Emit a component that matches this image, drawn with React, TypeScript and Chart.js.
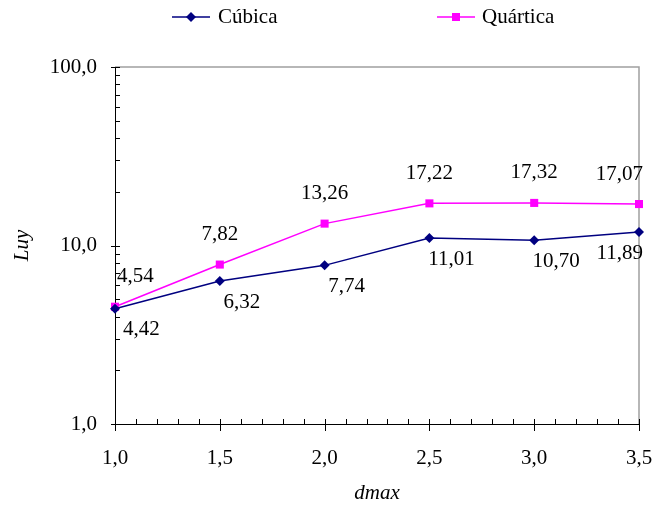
import React, { useEffect, useRef } from "react";
import { Chart, registerables } from "chart.js";

Chart.register(...registerables);

const dmaxValues = [1.0, 1.5, 2.0, 2.5, 3.0, 3.5];
const cubicaValues = [4.42, 6.32, 7.74, 11.01, 10.7, 11.89];
const quarticaValues = [4.54, 7.82, 13.26, 17.22, 17.32, 17.07];
const yTickValues = [1, 10, 100];
const seriesNames = ["Cúbica", "Quártica"];
const seriesColors = ["#000080", "#FF00FF"];
const seriesMarkers = ["rectRot", "rect"];

const FONT = "'Liberation Serif', 'Times New Roman', serif";
const FS = 21;
const fmt = (v: number, d: number) => v.toFixed(d).replace(".", ",");

function drawMarker(ctx: CanvasRenderingContext2D, kind: string, x: number, y: number, color: string) {
  ctx.save();
  ctx.fillStyle = color;
  ctx.beginPath();
  if (kind === "rectRot") {
    const r = 5;
    ctx.moveTo(x, y - r);
    ctx.lineTo(x + r, y);
    ctx.lineTo(x, y + r);
    ctx.lineTo(x - r, y);
    ctx.closePath();
  } else {
    ctx.rect(x - 4, y - 4, 8, 8);
  }
  ctx.fill();
  ctx.restore();
}

const framePlugin = {
  id: "frame",
  beforeDatasetsDraw(chart: any) {
    const { ctx, chartArea } = chart;
    const { left, right, top, bottom } = chartArea;
    const xs = chart.scales.x;
    const ys = chart.scales.y;
    ctx.save();
    ctx.strokeStyle = "#a0a0a0";
    ctx.lineWidth = 1.5;
    ctx.beginPath();
    ctx.moveTo(left, top);
    ctx.lineTo(right, top);
    ctx.lineTo(right, bottom);
    ctx.stroke();
    ctx.strokeStyle = "#000000";
    ctx.lineWidth = 1;
    ctx.beginPath();
    ctx.moveTo(Math.round(left) + 0.5, top);
    ctx.lineTo(Math.round(left) + 0.5, bottom);
    ctx.moveTo(left, Math.round(bottom) + 0.5);
    ctx.lineTo(right, Math.round(bottom) + 0.5);
    for (let dec = 1; dec < 100; dec *= 10) {
      for (let m = 1; m <= 9; m++) {
        const v = dec * m;
        const py = Math.round(ys.getPixelForValue(v)) + 0.5;
        ctx.moveTo(m === 1 ? left - 4 : left, py);
        ctx.lineTo(left + 5, py);
      }
    }
    {
      const py = Math.round(ys.getPixelForValue(100)) + 0.5;
      ctx.moveTo(left - 4, py);
      ctx.lineTo(left + 5, py);
    }
    for (let i = 0; i <= 25; i++) {
      const v = 1 + i * 0.1;
      const px = Math.round(xs.getPixelForValue(v)) + 0.5;
      ctx.moveTo(px, bottom - 5);
      ctx.lineTo(px, i % 5 === 0 ? bottom + 7 : bottom);
    }
    ctx.stroke();
    ctx.restore();
  },
};

const labelPlugin = {
  id: "valueLabels",
  afterDatasetsDraw(chart: any) {
    const { ctx } = chart;
    ctx.save();
    ctx.font = `${FS}px ${FONT}`;
    ctx.fillStyle = "#000000";
    ctx.textAlign = "center";
    ctx.textBaseline = "middle";
    chart.data.datasets.forEach((ds: any, di: number) => {
      const meta = chart.getDatasetMeta(di);
      meta.data.forEach((pt: any, i: number) => {
        const text = fmt(ds.data[i].y, 2);
        const w = ctx.measureText(text).width;
        let cx = di === 0 ? pt.x + 22 : pt.x;
        const cy = di === 0 ? pt.y + 21 : pt.y - 30;
        const minLeft = di === 0 ? 123 : 117;
        if (cx - w / 2 < minLeft) cx = minLeft + w / 2;
        if (cx + w / 2 > 643) cx = 643 - w / 2;
        ctx.fillText(text, cx, cy);
      });
    });
    ctx.restore();
  },
};

const legendPlugin = {
  id: "customLegend",
  afterDraw(chart: any) {
    const { ctx } = chart;
    const items = [
      { x0: 172, x1: 210, tx: 218 },
      { x0: 437, x1: 475, tx: 482 },
    ];
    ctx.save();
    ctx.font = `${FS}px ${FONT}`;
    ctx.textBaseline = "middle";
    ctx.textAlign = "left";
    items.forEach((it, i) => {
      const y = 17;
      ctx.strokeStyle = seriesColors[i];
      ctx.lineWidth = 1.5;
      ctx.beginPath();
      ctx.moveTo(it.x0, y);
      ctx.lineTo(it.x1, y);
      ctx.stroke();
      drawMarker(ctx, seriesMarkers[i], (it.x0 + it.x1) / 2, y, seriesColors[i]);
      ctx.fillStyle = "#000000";
      ctx.fillText(seriesNames[i], it.tx, y);
    });
    ctx.restore();
  },
};

export default function App() {
  const ref = useRef<HTMLCanvasElement>(null);
  useEffect(() => {
    if (!ref.current) return;
    const mk = (vals: number[]) => dmaxValues.map((x, i) => ({ x, y: vals[i] }));
    const chart = new Chart(ref.current, {
      type: "line",
      data: {
        datasets: [
          {
            label: seriesNames[0],
            data: mk(cubicaValues),
            borderColor: seriesColors[0],
            backgroundColor: seriesColors[0],
            borderWidth: 1.5,
            pointStyle: "rectRot",
            pointRadius: 5,
            pointBorderWidth: 0,
            tension: 0,
            clip: false,
          },
          {
            label: seriesNames[1],
            data: mk(quarticaValues),
            borderColor: seriesColors[1],
            backgroundColor: seriesColors[1],
            borderWidth: 1.5,
            pointStyle: "rect",
            pointRadius: 5.7,
            pointBorderWidth: 0,
            tension: 0,
            clip: false,
          },
        ],
      },
      options: {
        animation: false,
        responsive: false,
        maintainAspectRatio: false,
        layout: { padding: { top: 67, right: 16, left: 0, bottom: 0 } },
        plugins: {
          legend: { display: false },
          tooltip: { enabled: false },
        },
        scales: {
          x: {
            type: "linear",
            min: 1,
            max: 3.5,
            grid: { display: false, drawTicks: false, tickLength: 0 },
            border: { display: false },
            afterFit: (s: any) => {
              s.height = 88;
              s.paddingRight = 0;
              s.paddingLeft = 0;
            },
            ticks: {
              stepSize: 0.5,
              padding: 22,
              color: "#000000",
              font: { family: FONT, size: FS },
              maxRotation: 0,
              callback: (v: any) => fmt(Number(v), 1),
            },
            title: {
              display: true,
              text: "dmax",
              color: "#000000",
              font: { family: FONT, size: FS, style: "italic" },
              padding: { top: 0, bottom: 6 },
            },
          },
          y: {
            type: "logarithmic",
            min: 1,
            max: 100,
            grid: { display: false, drawTicks: false, tickLength: 0 },
            border: { display: false },
            afterFit: (s: any) => {
              s.width = 115;
              s.paddingTop = 0;
              s.paddingBottom = 0;
            },
            afterBuildTicks: (s: any) => {
              s.ticks = yTickValues.map((v) => ({ value: v }));
            },
            ticks: {
              padding: 18,
              color: "#000000",
              font: { family: FONT, size: FS },
              callback: (v: any) => fmt(Number(v), 1),
            },
            title: {
              display: true,
              text: "Luy",
              color: "#000000",
              font: { family: FONT, size: FS, style: "italic" },
              padding: { top: 10, bottom: 0 },
            },
          },
        },
      },
      plugins: [framePlugin, labelPlugin, legendPlugin],
    } as any);
    return () => chart.destroy();
  }, []);
  return (
    <div style={{ position: "fixed", left: 0, top: 0, width: 655, height: 512, background: "#ffffff" }}>
      <canvas ref={ref} width={655} height={512} style={{ width: 655, height: 512 }} />
    </div>
  );
}
